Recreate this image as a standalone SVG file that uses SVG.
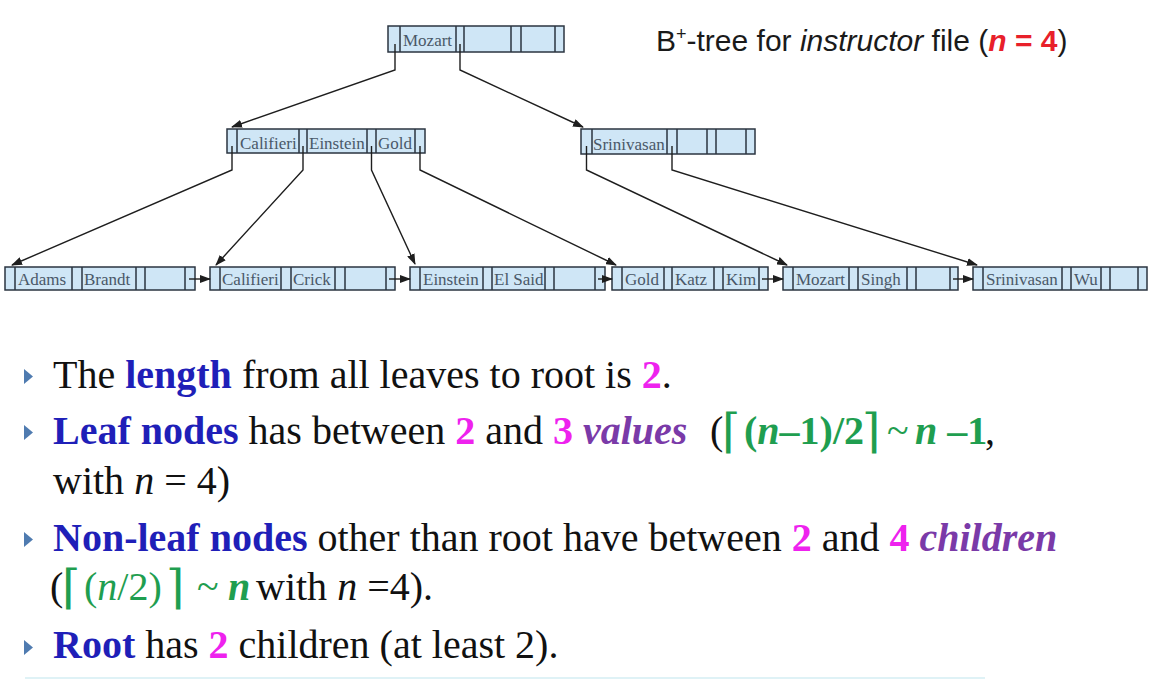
<svg xmlns="http://www.w3.org/2000/svg" width="1155" height="681" viewBox="0 0 1155 681">
<style>
.nd{fill:#cfe6f6;stroke:#2b3540;stroke-width:1.5}
.dv{stroke:#2b3540;stroke-width:1.5;fill:none}
.k{font-family:"Liberation Serif","Times New Roman",serif;font-size:17px;fill:#4a5868}
.cn{stroke:#1e1e1e;stroke-width:1.4;fill:none}
.t{font-family:"Liberation Serif","Times New Roman",serif;font-size:40px;fill:#111}
.b{font-weight:bold;fill:#1f1fb8}
.m{font-weight:bold;fill:#ee22ee}
.p{font-weight:bold;font-style:italic;fill:#7a3aa8}
.g{fill:#1f9e50}
.ce{font-family:"DejaVu Serif","Liberation Serif",serif;font-size:47px;fill:#1f9e50}
.bul{fill:#4f7bb0}
.ttl{font-family:"Liberation Sans",Arial,sans-serif;font-size:30px;fill:#1a1a1a}
</style>
<defs>
<marker id="ah" markerUnits="userSpaceOnUse" markerWidth="11" markerHeight="8" refX="10" refY="4" orient="auto">
<path d="M0,0 L11,4 L0,8 z" fill="#1e1e1e"/>
</marker>
</defs>
<rect width="1155" height="681" fill="#ffffff"/>

<g id="title">
<text class="ttl" x="656" y="51">B<tspan font-size="18" dy="-11">+</tspan><tspan dy="11">-tree for </tspan><tspan font-style="italic">instructor</tspan> file (<tspan fill="#e8202a" font-weight="bold"><tspan font-style="italic">n</tspan> = 4</tspan>)</text>
</g>

<g id="root">
<rect class="nd" x="388" y="26" width="176" height="26"/>
<path class="dv" d="M400,26V52 M456,26V52 M464,26V52 M511,26V52 M521,26V52 M555,26V52"/>
<text class="k" x="403" y="46">Mozart</text>
</g>

<g id="inner1">
<rect class="nd" x="227" y="129" width="198" height="24"/>
<path class="dv" d="M237,129V153 M299,129V153 M307,129V153 M367,129V153 M376,129V153 M415,129V153"/>
<text class="k" x="240" y="149">Califieri</text>
<text class="k" x="309" y="149">Einstein</text>
<text class="k" x="378" y="149">Gold</text>
</g>

<g id="inner2">
<rect class="nd" x="581" y="129" width="174" height="25"/>
<path class="dv" d="M592,129V154 M667,129V154 M677,129V154 M707,129V154 M716,129V154 M746,129V154"/>
<text class="k" x="593" y="149.5">Srinivasan</text>
</g>

<g id="leaf1">
<rect class="nd" x="5" y="267" width="190" height="23"/>
<path class="dv" d="M15,267V290 M72,267V290 M82,267V290 M136,267V290 M145,267V290 M185,267V290"/>
<text class="k" x="18" y="285">Adams</text>
<text class="k" x="84" y="285">Brandt</text>
</g>

<g id="leaf2">
<rect class="nd" x="210" y="267" width="185" height="23"/>
<path class="dv" d="M220,267V290 M281,267V290 M291,267V290 M335,267V290 M345,267V290 M386,267V290"/>
<text class="k" x="222" y="285">Califieri</text>
<text class="k" x="293" y="285">Crick</text>
</g>

<g id="leaf3">
<rect class="nd" x="410" y="267" width="195" height="23"/>
<path class="dv" d="M420,267V290 M483,267V290 M492,267V290 M545,267V290 M554,267V290 M595,267V290"/>
<text class="k" x="423" y="285">Einstein</text>
<text class="k" x="494" y="285">El Said</text>
</g>

<g id="leaf4">
<rect class="nd" x="612" y="267" width="156" height="23"/>
<path class="dv" d="M622,267V290 M664,267V290 M672,267V290 M714,267V290 M723,267V290 M759,267V290"/>
<text class="k" x="625" y="285">Gold</text>
<text class="k" x="675" y="285">Katz</text>
<text class="k" x="726" y="285">Kim</text>
</g>

<g id="leaf5">
<rect class="nd" x="783" y="267" width="175" height="23"/>
<path class="dv" d="M793,267V290 M849,267V290 M858,267V290 M907,267V290 M916,267V290 M950,267V290"/>
<text class="k" x="796" y="285">Mozart</text>
<text class="k" x="861" y="285">Singh</text>
</g>

<g id="leaf6">
<rect class="nd" x="973" y="267" width="174" height="23"/>
<path class="dv" d="M983,267V290 M1062,267V290 M1071,267V290 M1101,267V290 M1110,267V290 M1138,267V290"/>
<text class="k" x="986" y="285">Srinivasan</text>
<text class="k" x="1074" y="285">Wu</text>
</g>

<g id="connectors">
<path class="cn" marker-end="url(#ah)" d="M395,44 V70 L232,127"/>
<path class="cn" marker-end="url(#ah)" d="M460,44 V70 L583,127"/>
<path class="cn" marker-end="url(#ah)" d="M232,146 V170 L12,265"/>
<path class="cn" marker-end="url(#ah)" d="M303,146 V170 L216,265"/>
<path class="cn" marker-end="url(#ah)" d="M371.5,146 V170 L415,264"/>
<path class="cn" marker-end="url(#ah)" d="M420,146 V170 L616,265"/>
<path class="cn" marker-end="url(#ah)" d="M586.5,146 V170 L787,265"/>
<path class="cn" marker-end="url(#ah)" d="M672,146 V170 L977,265"/>
<path class="cn" marker-end="url(#ah)" d="M189,279 H210"/>
<path class="cn" marker-end="url(#ah)" d="M389,279 H410"/>
<path class="cn" marker-end="url(#ah)" d="M598,279 H612"/>
<path class="cn" marker-end="url(#ah)" d="M762,279 H783"/>
<path class="cn" marker-end="url(#ah)" d="M953,279 H973"/>
</g>

<g id="bullets">
<path class="bul" d="M24,369 L33,376.5 L24,384 z"/>
<path class="bul" d="M24,425 L33,432.5 L24,440 z"/>
<path class="bul" d="M24,532 L33,539.5 L24,547 z"/>
<path class="bul" d="M24,640 L33,647.5 L24,655 z"/>

<text class="t" x="53" y="388">The <tspan class="b">length</tspan> from all leaves to root is <tspan class="m">2</tspan>.</text>

<text class="t" x="53" y="444"><tspan class="b">Leaf nodes</tspan> has between <tspan class="m">2</tspan> and <tspan class="m">3</tspan> <tspan class="p">values</tspan></text>
<text class="t" x="710" y="444">(</text>
<text class="ce" x="722" y="447">⌈</text>
<text class="t g" x="744" y="444" font-weight="bold">(<tspan font-style="italic">n</tspan>–1)/2</text>
<text class="ce" x="862" y="447">⌉</text>
<text class="t g" x="887" y="444">~</text>
<text class="t g" x="915" y="444" font-weight="bold"><tspan font-style="italic">n</tspan> –1</text>
<text class="t" x="985" y="444">,</text>

<text class="t" x="53" y="494">with <tspan font-style="italic">n</tspan> = 4)</text>

<text class="t" x="53" y="551"><tspan class="b">Non-leaf nodes</tspan> other than root have between <tspan class="m">2</tspan> and <tspan class="m">4</tspan> <tspan class="p">children</tspan></text>

<text class="t" x="50" y="600">(</text>
<text class="ce" x="62" y="603">⌈</text>
<text class="t g" x="84" y="600">(<tspan font-style="italic">n</tspan>/2)</text>
<text class="ce" x="166" y="603">⌉</text>
<text class="t g" x="197" y="600">~</text>
<text class="t g" x="228" y="600" font-weight="bold" font-style="italic">n</text>
<text class="t" x="256" y="600">with <tspan font-style="italic">n</tspan> =4).</text>

<text class="t" x="53" y="658"><tspan class="b">Root</tspan> has <tspan class="m">2</tspan> children (at least 2).</text>
</g>
<line x1="25" y1="678" x2="985" y2="678" stroke="#dff2f6" stroke-width="2"/>
</svg>
